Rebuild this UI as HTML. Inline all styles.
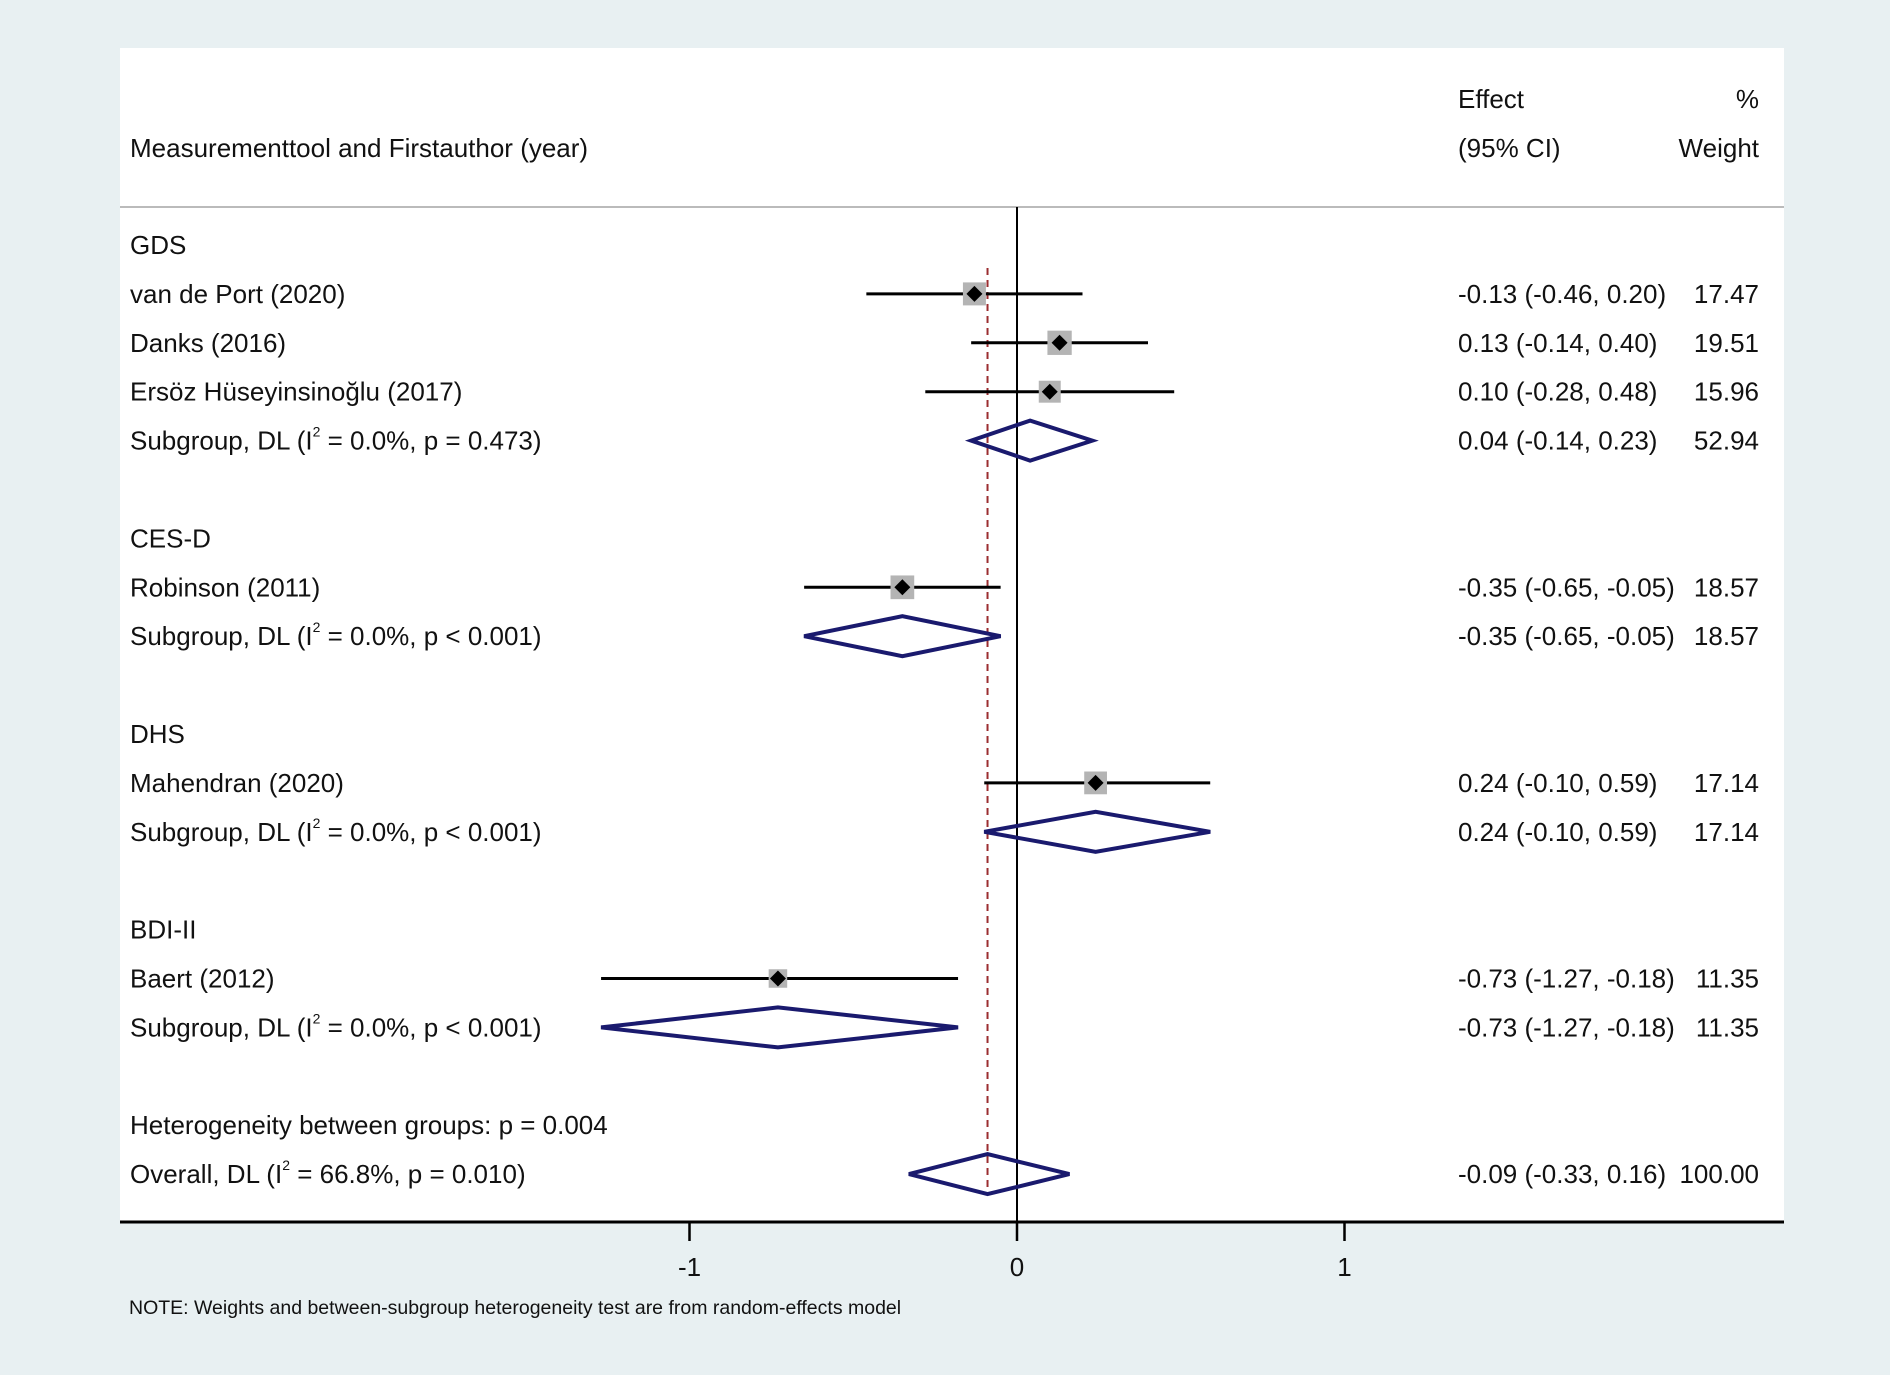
<!DOCTYPE html>
<html><head><meta charset="utf-8"><style>
html,body{margin:0;padding:0;background:#e8f0f2}
svg{display:block}
text{font-family:"Liberation Sans",Arial,sans-serif;fill:#111}
</style></head><body>
<svg id="chart" width="1890" height="1375">
<rect x="0" y="0" width="1890" height="1375" fill="#e8f0f2"/>
<rect x="120" y="48" width="1664" height="1174" fill="#fff"/>
<g id="g"></g>
</svg>
<script>
const labels=["GDS","van de Port (2020)","Danks (2016)","Ersöz Hüseyinsinoğlu (2017)","SUB:0.0%, p = 0.473","","CES-D","Robinson (2011)","SUB:0.0%, p < 0.001","","DHS","Mahendran (2020)","SUB:0.0%, p < 0.001","","BDI-II","Baert (2012)","SUB:0.0%, p < 0.001","","Heterogeneity between groups: p = 0.004","OVR:66.8%, p = 0.010"];
const kinds=["h","s","s","s","d","","h","s","d","","h","s","d","","h","s","d","","h","o"];
const est=[null,-0.13,0.13,0.10,0.04,null,null,-0.35,-0.35,null,null,0.24,0.24,null,null,-0.73,-0.73,null,null,-0.09];
const lo=[null,-0.46,-0.14,-0.28,-0.14,null,null,-0.65,-0.65,null,null,-0.10,-0.10,null,null,-1.27,-1.27,null,null,-0.33];
const hi=[null,0.20,0.40,0.48,0.23,null,null,-0.05,-0.05,null,null,0.59,0.59,null,null,-0.18,-0.18,null,null,0.16];
const weights=[null,17.47,19.51,15.96,52.94,null,null,18.57,18.57,null,null,17.14,17.14,null,null,11.35,11.35,null,null,100.00];
const ticks=[-1,0,1];
const overall=-0.09;

const NS="http://www.w3.org/2000/svg";
const g=document.getElementById('g');
const FS=26;
const X=v=>1017+v*327.5;
const Y=i=>245+i*48.9;
function mk(t,a,p){const e=document.createElementNS(NS,t);for(const k in a)e.setAttribute(k,a[k]);(p||g).appendChild(e);return e;}
function txt(x,y,s,anchor,size){const e=mk('text',{x:x,y:y,'font-size':size||FS,'text-anchor':anchor||'start'});e.textContent=s;return e;}
const f2=v=>v.toFixed(2);

let e;
e=txt(130,157,"Measurementtool and Firstauthor (year)");


e=txt(1458,108,"Effect");


e=txt(1458,157,"(95% CI)");


e=txt(1759,108,"%","end");


e=txt(1759,157,"Weight","end");


e=mk('line',{x1:120,x2:1784,y1:207,y2:207,stroke:'#bbb','stroke-width':2});



e=mk('line',{x1:X(0),x2:X(0),y1:207,y2:1222,stroke:'#000','stroke-width':2});


e=mk('line',{x1:X(overall),x2:X(overall),y1:268,y2:1195,stroke:'#9b2d30','stroke-width':2,'stroke-dasharray':'7,5'});



labels.forEach((l,i)=>{
  const y=Y(i);
  if(!l)return;
  let t;
  if(l.startsWith("SUB:")||l.startsWith("OVR:")){
    const pre=l.startsWith("SUB:")?"Subgroup, DL (I":"Overall, DL (I";
    t=mk('text',{x:130,y:y+9,'font-size':FS});
    const a=mk('tspan',{},t);a.textContent=pre;
    const b=mk('tspan',{dy:-13,'font-size':14},t);b.textContent="2";
    const c=mk('tspan',{dy:13},t);c.textContent=" = "+l.slice(4)+")";
  } else t=txt(130,y+9,l);
  
  
  if(est[i]===null)return;
  const k=kinds[i];
  if(k==='s'){
    const ci=mk('line',{x1:X(lo[i]),x2:X(hi[i]),y1:y,y2:y,stroke:'#000','stroke-width':3});
    
    
    const s=Math.sqrt(weights[i])*5.5;
    const sq=mk('rect',{x:X(est[i])-s/2,y:y-s/2,width:s,height:s,fill:'#b4b4b4'});
    
    
    const cx=X(est[i]);
    const dm=mk('polygon',{points:`${cx-8},${y} ${cx},${y-8} ${cx+8},${y} ${cx},${y+8}`,fill:'#000'});
    
    
  } else {
    const cx=X(est[i]);
    const dm=mk('polygon',{points:`${X(lo[i])},${y} ${cx},${y-20} ${X(hi[i])},${y} ${cx},${y+20}`,fill:'none',stroke:'#1a1a6e','stroke-width':4});
    
    
  }
  const et=txt(1458,y+9,`${f2(est[i])} (${f2(lo[i])}, ${f2(hi[i])})`);
  
  
  const wt=txt(1759,y+9,f2(weights[i]),'end');
  
  
});

e=mk('line',{x1:120,x2:1784,y1:1222,y2:1222,stroke:'#000','stroke-width':3});


ticks.forEach(v=>{
  const tk=mk('line',{x1:X(v),x2:X(v),y1:1222,y2:1241,stroke:'#000','stroke-width':2.5});
  
  
  const tl=txt(X(v),1276,String(v),'middle');
  
  
});
e=txt(129,1314,"NOTE: Weights and between-subgroup heterogeneity test are from random-effects model",'start',19.5);


</script>
</body></html>
